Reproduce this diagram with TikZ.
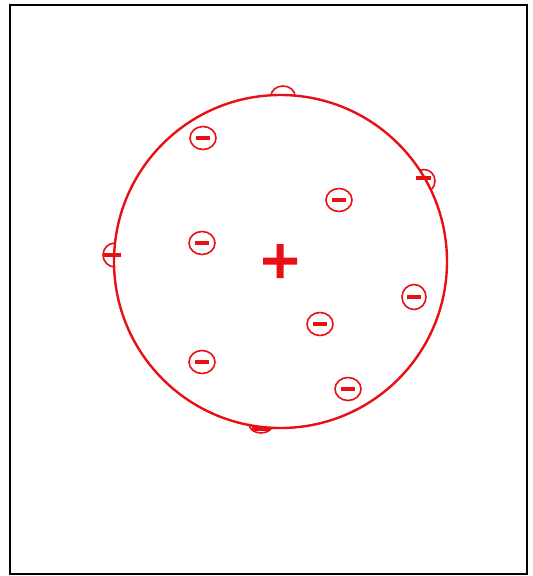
\documentclass[tikz,border=0pt]{standalone}
\usetikzlibrary{shapes.geometric}
\definecolor{atomred}{RGB}{232,16,20}
\begin{document}
\begin{tikzpicture}[x=1pt,y=1pt,
  shell/.style={ellipse, draw=atomred, line width=1.6pt, inner sep=0pt},
  electron/.style={shell, minimum width=26pt, minimum height=23pt,
    path picture={\draw[atomred, line width=3.5pt]
      ([xshift=-7pt]path picture bounding box.center) -- ([xshift=7pt]path picture bounding box.center);}},
  bar/.style={atomred, line width=3.2pt},
  atom/.style={circle, draw=atomred, line width=2.4pt, fill=white, inner sep=0pt, minimum size=333pt},
  plusmark/.style={inner sep=0pt, minimum size=36pt,
    path picture={\fill[atomred]
      ([xshift=-17pt,yshift=-3.5pt]path picture bounding box.center) rectangle ([xshift=17pt,yshift=3.5pt]path picture bounding box.center)
      ([xshift=-3.5pt,yshift=-17pt]path picture bounding box.center) rectangle ([xshift=3.5pt,yshift=17pt]path picture bounding box.center);}}
]
\useasboundingbox (0,0) rectangle (533,-576);
\draw[line width=2pt] (10,-5) rectangle (527,-574);
% electrons sitting on the surface (drawn first, inner parts hidden by the atom)
\node[shell, minimum width=24pt, minimum height=20pt] (eTop) at (283,-96) {};
\node[shell, minimum width=22pt, minimum height=23pt] (eRight) at (424,-181) {};
\node[shell, minimum width=24pt, minimum height=24pt] (eLeft) at (115,-255) {};
\node[shell, minimum width=24pt, minimum height=18pt] (eBottom) at (261,-424) {};
% the atom
\node[atom] (atom) at (280.5,-261.5) {};
% bars of the surface electrons
\draw[bar] ([xshift=-8pt,yshift=3pt]eRight.center) -- ([xshift=7pt,yshift=3pt]eRight.center);
\draw[bar] ([xshift=-11pt]eLeft.center) -- ([xshift=6pt]eLeft.center);
\draw[bar] ([xshift=-9pt,yshift=-5pt]eBottom.center) -- ([xshift=9pt,yshift=-5pt]eBottom.center);
% nucleus
\node[plusmark] (nucleus) at (280,-261) {};
% inner electrons
\node[electron] (e1) at (203,-138) {};
\node[electron] (e2) at (339,-200) {};
\node[electron] (e3) at (202,-243) {};
\node[electron, minimum width=24pt, minimum height=25pt] (e4) at (414,-297) {};
\node[electron] (e5) at (320,-324) {};
\node[electron] (e6) at (202,-362) {};
\node[electron] (e7) at (348,-389) {};
\end{tikzpicture}
\end{document}
